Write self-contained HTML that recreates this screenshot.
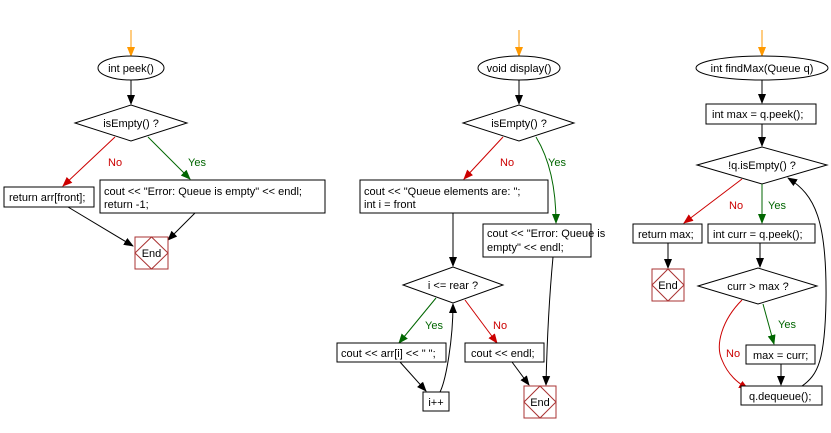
<!DOCTYPE html><html><head><style>body{margin:0;background:#fff}svg{display:block}text{font-family:"Liberation Sans",sans-serif;font-size:11px}</style></head><body>
<svg width="831" height="433" viewBox="0 0 831 433" xmlns="http://www.w3.org/2000/svg">
<defs>
<marker id="k" markerWidth="10" markerHeight="10" refX="9" refY="5" orient="auto" markerUnits="userSpaceOnUse"><path d="M0,1 L10,5 L0,9 Z" fill="#000"/></marker>
<marker id="r" markerWidth="10" markerHeight="10" refX="9" refY="5" orient="auto" markerUnits="userSpaceOnUse"><path d="M0,1 L10,5 L0,9 Z" fill="#c00"/></marker>
<marker id="g" markerWidth="10" markerHeight="10" refX="9" refY="5" orient="auto" markerUnits="userSpaceOnUse"><path d="M0,1 L10,5 L0,9 Z" fill="#060"/></marker>
<marker id="o" markerWidth="10" markerHeight="10" refX="9" refY="5" orient="auto" markerUnits="userSpaceOnUse"><path d="M0,1 L10,5 L0,9 Z" fill="#f90"/></marker>
</defs>
<g fill="#fff" stroke="#000" stroke-width="1">
<!-- left -->
<line x1="131" y1="30" x2="131" y2="56" stroke="#f90" marker-end="url(#o)"/>
<ellipse cx="131" cy="68" rx="33" ry="12"/>
<line x1="131" y1="80" x2="131" y2="104" marker-end="url(#k)"/>
<polygon points="75,123 131,105 187,123 131,141"/>
<line x1="115" y1="137" x2="63" y2="186" stroke="#c00" marker-end="url(#r)"/>
<line x1="148" y1="137" x2="190" y2="179" stroke="#060" marker-end="url(#g)"/>
<rect x="4" y="187" width="90" height="20"/>
<rect x="100" y="180" width="225" height="33"/>
<line x1="68" y1="207" x2="133" y2="246" marker-end="url(#k)"/>
<line x1="195" y1="213" x2="168" y2="240" marker-end="url(#k)"/>
<rect x="135" y="237" width="33" height="32" stroke="#a33"/>
<polygon points="135,253 151.5,237 168,253 151.5,269" stroke="#a33"/>
<!-- middle -->
<line x1="519" y1="30" x2="519" y2="56" stroke="#f90" marker-end="url(#o)"/>
<ellipse cx="519" cy="68" rx="41" ry="12"/>
<line x1="519" y1="80" x2="519" y2="104" marker-end="url(#k)"/>
<polygon points="463,123 519,105 574,123 519,141"/>
<line x1="503" y1="137" x2="464" y2="179" stroke="#c00" marker-end="url(#r)"/>
<path d="M536,137 C550,160 556,190 556,223" fill="none" stroke="#060" marker-end="url(#g)"/>
<rect x="360" y="180" width="188" height="33"/>
<rect x="483" y="224" width="108" height="33"/>
<line x1="453" y1="213" x2="453" y2="266" marker-end="url(#k)"/>
<polygon points="403,285 453,267 503,285 453,303"/>
<line x1="436" y1="298" x2="399" y2="343" stroke="#060" marker-end="url(#g)"/>
<line x1="465" y1="300" x2="497" y2="343" stroke="#c00" marker-end="url(#r)"/>
<rect x="337" y="343" width="109" height="19"/>
<rect x="465" y="343" width="79" height="19"/>
<line x1="400" y1="362" x2="426" y2="391" marker-end="url(#k)"/>
<rect x="423" y="392" width="26" height="19"/>
<path d="M440,392 C446,380 453,340 453,304" fill="none" marker-end="url(#k)"/>
<line x1="512" y1="362" x2="529" y2="385" marker-end="url(#k)"/>
<path d="M553,257 C549,300 547,340 546,385" fill="none" marker-end="url(#k)"/>
<rect x="524" y="386" width="32" height="32" stroke="#a33"/>
<polygon points="524,402 540,386 556,402 540,418" stroke="#a33"/>
<!-- right -->
<line x1="762" y1="30" x2="762" y2="56" stroke="#f90" marker-end="url(#o)"/>
<ellipse cx="762" cy="68" rx="66" ry="12"/>
<line x1="762" y1="80" x2="762" y2="103" marker-end="url(#k)"/>
<rect x="706" y="104" width="110" height="20"/>
<line x1="762" y1="124" x2="762" y2="146" marker-end="url(#k)"/>
<polygon points="697,165 762,147 827,165 762,184"/>
<line x1="742" y1="179" x2="684" y2="223" stroke="#c00" marker-end="url(#r)"/>
<line x1="762" y1="184" x2="762" y2="223" stroke="#060" marker-end="url(#g)"/>
<rect x="633" y="224" width="69" height="19"/>
<rect x="708" y="224" width="107" height="19"/>
<line x1="668" y1="243" x2="668" y2="268" marker-end="url(#k)"/>
<rect x="652" y="269" width="32" height="32" stroke="#a33"/>
<polygon points="652,285 668,269 684,285 668,301" stroke="#a33"/>
<line x1="760" y1="243" x2="760" y2="267" marker-end="url(#k)"/>
<polygon points="698,286 758,268 817,286 758,304"/>
<line x1="763" y1="304" x2="774" y2="344" stroke="#060" marker-end="url(#g)"/>
<rect x="746" y="345" width="69" height="19"/>
<path d="M742,300 C722,320 715,345 722,360 C728,375 738,383 748,389" fill="none" stroke="#c00" marker-end="url(#r)"/>
<line x1="781" y1="364" x2="781" y2="385" marker-end="url(#k)"/>
<rect x="741" y="386" width="81" height="19"/>
<path d="M802,386 C818,375 825,360 826,300 C827,220 815,195 788,178" fill="none" marker-end="url(#k)"/>
</g>
<g fill="#000">
<text x="131" y="72" text-anchor="middle">int peek()</text>
<text x="131" y="127" text-anchor="middle">isEmpty() ?</text>
<text x="108" y="166" fill="#c00">No</text>
<text x="188" y="166" fill="#060">Yes</text>
<text x="9" y="201">return arr[front];</text>
<text x="104" y="195">cout &lt;&lt; "Error: Queue is empty" &lt;&lt; endl;</text>
<text x="104" y="208">return -1;</text>
<text x="151.5" y="257" text-anchor="middle">End</text>
<text x="519" y="72" text-anchor="middle">void display()</text>
<text x="519" y="127" text-anchor="middle">isEmpty() ?</text>
<text x="500" y="166" fill="#c00">No</text>
<text x="548" y="166" fill="#060">Yes</text>
<text x="364" y="195">cout &lt;&lt; "Queue elements are: ";</text>
<text x="364" y="208">int i = front</text>
<text x="487" y="237">cout &lt;&lt; "Error: Queue is</text>
<text x="487" y="251">empty" &lt;&lt; endl;</text>
<text x="453" y="289" text-anchor="middle">i &lt;= rear ?</text>
<text x="425" y="329" fill="#060">Yes</text>
<text x="493" y="329" fill="#c00">No</text>
<text x="341" y="357">cout &lt;&lt; arr[i] &lt;&lt; " ";</text>
<text x="471" y="357">cout &lt;&lt; endl;</text>
<text x="436" y="406" text-anchor="middle">i++</text>
<text x="540" y="406" text-anchor="middle">End</text>
<text x="762" y="72" text-anchor="middle">int findMax(Queue q)</text>
<text x="712" y="118">int max = q.peek();</text>
<text x="762" y="169" text-anchor="middle">!q.isEmpty() ?</text>
<text x="729" y="209" fill="#c00">No</text>
<text x="768" y="209" fill="#060">Yes</text>
<text x="638" y="238">return max;</text>
<text x="713" y="238">int curr = q.peek();</text>
<text x="668" y="289" text-anchor="middle">End</text>
<text x="758" y="290" text-anchor="middle">curr &gt; max ?</text>
<text x="778" y="328" fill="#060">Yes</text>
<text x="726" y="357" fill="#c00">No</text>
<text x="753" y="359">max = curr;</text>
<text x="749" y="400">q.dequeue();</text>
</g>
</svg></body></html>
